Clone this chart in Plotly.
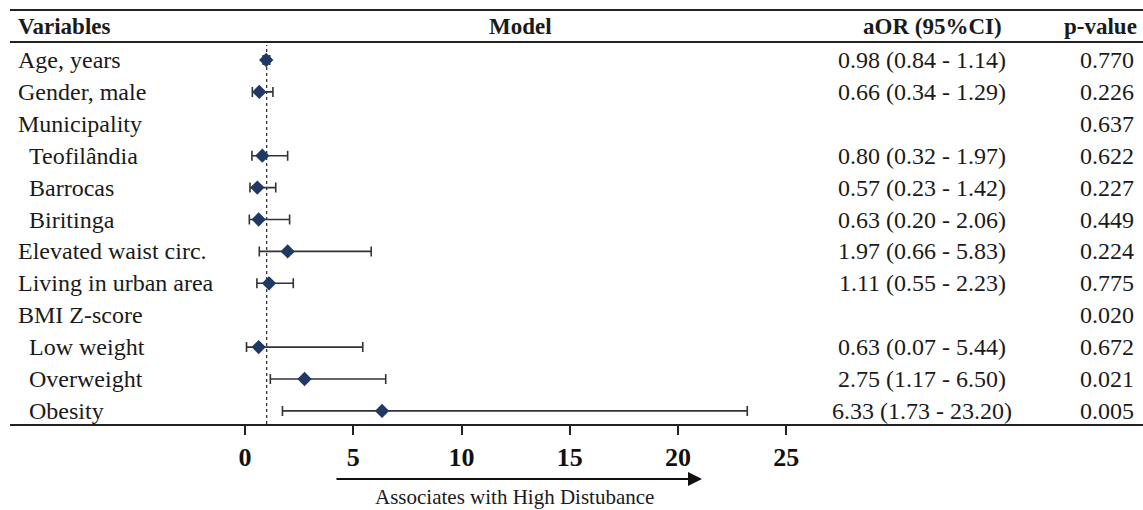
import plotly.graph_objects as go

# ---------------- data ----------------
variables = ["Age, years", "Gender, male", "Municipality", "Teofilândia", "Barrocas",
             "Biritinga", "Elevated waist circ.", "Living in urban area", "BMI Z-score",
             "Low weight", "Overweight", "Obesity"]
indented = [False, False, False, True, True, True, False, False, False, True, True, True]
aor = [0.98, 0.66, None, 0.80, 0.57, 0.63, 1.97, 1.11, None, 0.63, 2.75, 6.33]
ci_low = [0.84, 0.34, None, 0.32, 0.23, 0.20, 0.66, 0.55, None, 0.07, 1.17, 1.73]
ci_high = [1.14, 1.29, None, 1.97, 1.42, 2.06, 5.83, 2.23, None, 5.44, 6.50, 23.20]
pvalues = ["0.770", "0.226", "0.637", "0.622", "0.227", "0.449", "0.224", "0.775",
           "0.020", "0.672", "0.021", "0.005"]
tick_vals = [0, 5, 10, 15, 20, 25]
headers = ["Variables", "Model", "aOR (95%CI)", "p-value"]
arrow_label = "Associates with High Distubance"
ref_line = 1

# ---------------- layout geometry ----------------
W, H = 1143, 510
ML, MR, MT, MB = 10, 0, 10, 86
PW = W - ML - MR
PH = H - MT - MB
X0_PX = 245.0          # pixel of x = 0
PX_PER_UNIT = 21.65
ROW0_PX = 60.0
ROW_STEP = 31.9

xr = [(ML - X0_PX) / PX_PER_UNIT, (W - MR - X0_PX) / PX_PER_UNIT]
y_top = (ROW0_PX - MT) / ROW_STEP
y_bot = -((MT + PH - ROW0_PX) / ROW_STEP)


def px_x(p):
    return (p - ML) / PW


def px_y(p):
    return (MT + PH - p) / PH


FONT = "Liberation Serif"
TXT = "#1a1a1a"
BODY = 24

n = len(variables)
ys = [-i for i in range(n)]

pts = [(a, l, h, y) for a, l, h, y in zip(aor, ci_low, ci_high, ys) if a is not None]

fig = go.Figure()
fig.add_trace(go.Scatter(
    x=[p[0] for p in pts], y=[p[3] for p in pts], mode="markers",
    marker=dict(symbol="diamond", size=11, color="#1f3864"),
    error_x=dict(type="data", symmetric=False,
                 array=[p[2] - p[0] for p in pts],
                 arrayminus=[p[0] - p[1] for p in pts],
                 color="#333333", thickness=1.6, width=5),
    showlegend=False, hoverinfo="skip", cliponaxis=False,
))

annotations = []
for i, (v, ind) in enumerate(zip(variables, indented)):
    annotations.append(dict(x=px_x(27 if ind else 16), xref="paper", y=ys[i], yref="y",
                            text=v, showarrow=False, xanchor="left", yanchor="middle",
                            font=dict(family=FONT, size=BODY, color=TXT)))
    if aor[i] is not None:
        t = f"{aor[i]:.2f} ({ci_low[i]:.2f} - {ci_high[i]:.2f})"
        annotations.append(dict(x=px_x(922), xref="paper", y=ys[i], yref="y",
                                text=t, showarrow=False, xanchor="center", yanchor="middle",
                                font=dict(family=FONT, size=BODY, color=TXT)))
    annotations.append(dict(x=px_x(1136), xref="paper", y=ys[i], yref="y",
                            text=pvalues[i], showarrow=False, xanchor="right", yanchor="middle",
                            font=dict(family=FONT, size=BODY, color=TXT)))

hy = px_y(27)
hfont = dict(family=FONT, size=23, color=TXT, weight="bold")
annotations += [
    dict(x=px_x(16), xref="paper", y=hy, yref="paper", text=headers[0], showarrow=False,
         xanchor="left", yanchor="middle", font=hfont),
    dict(x=px_x(520), xref="paper", y=hy, yref="paper", text=headers[1], showarrow=False,
         xanchor="center", yanchor="middle", font=hfont),
    dict(x=px_x(932), xref="paper", y=hy, yref="paper", text=headers[2], showarrow=False,
         xanchor="center", yanchor="middle", font=hfont),
    dict(x=px_x(1139), xref="paper", y=hy, yref="paper", text=headers[3], showarrow=False,
         xanchor="right", yanchor="middle", font=hfont),
    # arrow
    dict(x=px_x(702), xref="paper", y=px_y(479), yref="paper", text="", showarrow=True,
         ax=-367, ay=0, axref="pixel", ayref="pixel", arrowhead=2, arrowsize=1.4,
         arrowwidth=2, arrowcolor="#111111"),
    dict(x=px_x(514), xref="paper", y=px_y(497), yref="paper", text=arrow_label,
         showarrow=False, xanchor="center", yanchor="middle",
         font=dict(family=FONT, size=21, color=TXT)),
]

shapes = [
    dict(type="line", xref="paper", yref="paper", x0=0, x1=1, y0=px_y(10), y1=px_y(10),
         line=dict(color="#222222", width=2)),
    dict(type="line", xref="paper", yref="paper", x0=0, x1=1, y0=px_y(42), y1=px_y(42),
         line=dict(color="#222222", width=2)),
    dict(type="line", xref="x", yref="paper", x0=ref_line, x1=ref_line, y0=0, y1=px_y(45),
         line=dict(color="#333333", width=1.3, dash="dot"), layer="below"),
]

fig.update_layout(
    width=W, height=H,
    margin=dict(l=ML, r=MR, t=MT, b=MB, pad=0),
    paper_bgcolor="white", plot_bgcolor="white",
    annotations=annotations, shapes=shapes,
    xaxis=dict(range=xr, tickvals=tick_vals, ticktext=[str(t) for t in tick_vals],
               showline=True, linecolor="#222222", linewidth=2, mirror=False,
               ticks="outside", ticklen=9, tickwidth=1.5, tickcolor="#222222",
               showgrid=False, zeroline=False, fixedrange=True,
               tickfont=dict(family=FONT, size=26, color="#111111", weight="bold")),
    yaxis=dict(range=[y_bot, y_top], visible=False, fixedrange=True),
    showlegend=False,
)

fig.write_html(
    "out.html",
    config={"displayModeBar": False},
    post_script="document.body.style.margin='0';document.body.style.overflow='hidden';",
)
